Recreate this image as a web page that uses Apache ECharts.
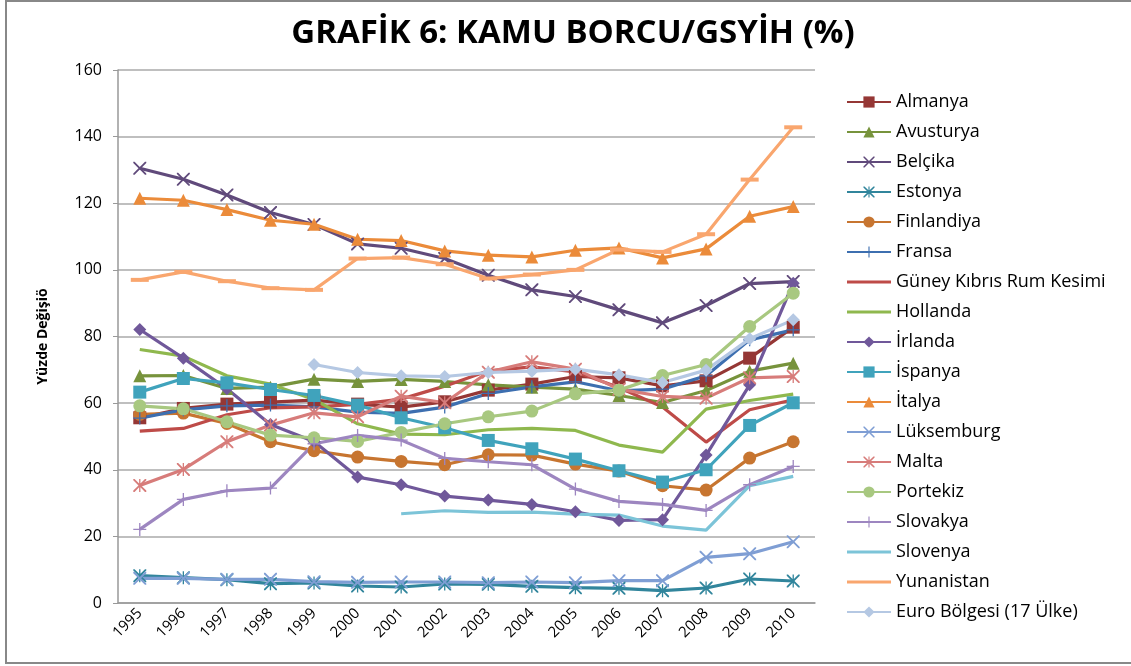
<!DOCTYPE html>
<html>
<head>
<meta charset="utf-8">
<script src="https://cdn.jsdelivr.net/npm/echarts@6/dist/echarts.min.js"></script>
<style>
  html, body { margin: 0; padding: 0; background: #fff; }
  #frame { position: absolute; left: 5px; top: 0px; width: 1140px; height: 664px; border: 2px solid #888; box-sizing: border-box; }
  #chart { position: absolute; left: 0; top: 0; width: 1131px; height: 666px; }
</style>
</head>
<body>
<div id="frame"></div>
<div id="chart"></div>
<script>
// yıllar
var years = ['1995', '1996', '1997', '1998', '1999', '2000', '2001', '2002', '2003', '2004', '2005', '2006', '2007', '2008', '2009', '2010'];
var yTicks = [0, 20, 40, 60, 80, 100, 120, 140, 160];

// ülke verileri (% GSYİH)
var almanya = [55.6, 58.4, 59.7, 60.3, 60.9, 59.7, 58.8, 60.4, 63.9, 65.7, 68.0, 67.6, 65.2, 66.7, 73.5, 82.8];
var avusturya = [68.2, 68.3, 64.4, 64.8, 67.2, 66.5, 67.1, 66.5, 65.5, 64.8, 64.2, 62.3, 60.2, 63.8, 69.6, 72.0];
var belcika = [130.5, 127.2, 122.5, 117.2, 113.6, 107.8, 106.5, 103.4, 98.4, 94.0, 92.0, 88.0, 84.1, 89.3, 95.9, 96.5];
var estonya = [8.2, 7.6, 7.0, 5.8, 6.0, 5.1, 4.8, 5.7, 5.6, 5.0, 4.6, 4.4, 3.7, 4.5, 7.2, 6.6];
var finlandiya = [56.6, 57.0, 53.9, 48.4, 45.7, 43.8, 42.5, 41.5, 44.5, 44.4, 41.7, 39.6, 35.2, 33.9, 43.5, 48.4];
var fransa = [55.5, 58.0, 59.2, 59.4, 58.9, 57.3, 56.9, 58.8, 62.9, 64.9, 66.4, 63.7, 64.2, 68.2, 79.0, 82.0];
var kibris = [51.6, 52.4, 56.5, 58.6, 58.9, 59.6, 61.2, 65.1, 69.7, 70.9, 69.4, 64.7, 58.8, 48.3, 58.0, 61.0];
var hollanda = [76.1, 74.1, 68.2, 65.7, 61.1, 53.8, 50.7, 50.5, 52.0, 52.4, 51.8, 47.4, 45.3, 58.2, 60.8, 62.7];
var irlanda = [82.1, 73.5, 64.3, 53.6, 48.5, 37.8, 35.5, 32.1, 30.9, 29.6, 27.4, 24.8, 25.0, 44.4, 65.5, 96.0];
var ispanya = [63.3, 67.4, 66.1, 64.1, 62.3, 59.4, 55.6, 52.6, 48.8, 46.3, 43.2, 39.7, 36.3, 40.0, 53.3, 60.1];
var italya = [121.5, 120.9, 118.1, 114.9, 113.7, 109.2, 108.8, 105.7, 104.4, 103.9, 105.9, 106.6, 103.6, 106.3, 116.1, 119.0];
var luksemburg = [7.4, 7.4, 7.1, 7.1, 6.4, 6.2, 6.3, 6.3, 6.1, 6.3, 6.1, 6.7, 6.7, 13.7, 14.8, 18.4];
var malta = [35.3, 40.1, 48.4, 53.4, 57.1, 55.9, 62.1, 60.1, 69.3, 72.4, 70.2, 64.2, 62.0, 61.5, 67.6, 68.0];
var portekiz = [59.2, 58.3, 54.4, 50.4, 49.6, 48.5, 51.2, 53.8, 55.9, 57.6, 62.8, 63.9, 68.3, 71.6, 83.0, 93.0];
var slovakya = [22.1, 31.1, 33.7, 34.5, 47.8, 50.3, 48.9, 43.4, 42.4, 41.5, 34.2, 30.5, 29.6, 27.8, 35.5, 41.0];
var slovenya = [null, null, null, null, null, null, 26.8, 27.7, 27.2, 27.3, 26.7, 26.4, 23.1, 21.9, 35.2, 38.0];
var yunanistan = [97.0, 99.4, 96.6, 94.5, 94.0, 103.4, 103.7, 101.7, 97.4, 98.6, 100.0, 106.1, 105.4, 110.7, 127.1, 142.8];
var euro = [null, null, null, null, 71.6, 69.2, 68.2, 68.0, 69.2, 69.6, 70.2, 68.5, 66.2, 69.9, 79.3, 85.0];

// işaret şekilleri
var X_SYM = 'path://M0,0 L2,0 L10,8 L18,0 L20,0 L20,2 L12,10 L20,18 L20,20 L18,20 L10,12 L2,20 L0,20 L0,18 L8,10 L0,2 Z';
var STAR_SYM = 'path://M0,0 L2,0 L9,7 L9,0 L11,0 L11,7 L18,0 L20,0 L20,2 L12,10 L20,18 L20,20 L18,20 L11,13 L11,20 L9,20 L9,13 L2,20 L0,20 L0,18 L8,10 L0,2 Z';
var PLUS_SYM = 'path://M9,0 L11,0 L11,9 L20,9 L20,11 L11,11 L11,20 L9,20 L9,11 L0,11 L0,9 L9,9 Z';
// lejantta yalnızca çizgi
var LINE_ICON = 'path://M0,0 L0.01,0 Z M0,5.5 L44,5.5 L44,8.5 L0,8.5 Z M43.99,14 L44,14 Z';

function seri (name, data, color, symbol, size) {
  return {
    name: name,
    type: 'line',
    data: data,
    color: color,
    symbol: symbol || 'none',
    symbolSize: size || 13,
    showSymbol: !!symbol,
    connectNulls: false,
    lineStyle: { width: 3.2, color: color },
    itemStyle: { color: color },
    emphasis: { disabled: true }
  }
}

var series = [
  seri('Almanya', almanya, '#953735', 'rect', 13),
  seri('Avusturya', avusturya, '#77933C', 'triangle', 13),
  seri('Belçika', belcika, '#604A7B', X_SYM, 13),
  seri('Estonya', estonya, '#31859C', STAR_SYM, 13),
  seri('Finlandiya', finlandiya, '#C77530', 'circle', 13),
  seri('Fransa', fransa, '#3D6FB0', PLUS_SYM, 13),
  seri('Güney Kıbrıs Rum Kesimi', kibris, '#BE4B48'),
  seri('Hollanda', hollanda, '#8FB84E'),
  seri('İrlanda', irlanda, '#70589A', 'diamond', 13),
  seri('İspanya', ispanya, '#40A3BC', 'rect', 13),
  seri('İtalya', italya, '#EB8B3A', 'triangle', 13),
  seri('Lüksemburg', luksemburg, '#7F9ED4', X_SYM, 13),
  seri('Malta', malta, '#D77C7A', STAR_SYM, 13),
  seri('Portekiz', portekiz, '#A8C880', 'circle', 13),
  seri('Slovakya', slovakya, '#9D86C0', PLUS_SYM, 13),
  seri('Slovenya', slovenya, '#7CC4D8'),
  seri('Yunanistan', yunanistan, '#F9A66E', 'rect', [18, 4]),
  seri('Euro Bölgesi (17 Ülke)', euro, '#B5C8E3', 'diamond', 13)
];

var plainLine = ['Güney Kıbrıs Rum Kesimi', 'Hollanda', 'Slovenya', 'Yunanistan'];
var legendData = series.map(function (s) {
  return plainLine.indexOf(s.name) >= 0 ? { name: s.name, icon: LINE_ICON } : { name: s.name }
});

var chart = echarts.init(document.getElementById('chart'));
chart.setOption({
  animation: false,
  title: {
    text: 'GRAFİK 6: KAMU BORCU/GSYİH (%)',
    left: 568,
    textAlign: 'center',
    top: 12,
    textStyle: { fontFamily: 'Open Sans', fontWeight: 'bold', fontSize: 33, color: '#000' }
  },
  legend: {
    orient: 'vertical',
    left: 846,
    top: 93,
    height: 570,
    padding: 0,
    itemWidth: 44,
    itemHeight: 14,
    itemGap: 12,
    data: legendData,
    textStyle: { fontFamily: 'Open Sans', fontSize: 18, lineHeight: 18, color: '#000' }
  },
  grid: { left: 118, right: 316, top: 70, bottom: 63 },
  xAxis: {
    type: 'category',
    data: years,
    boundaryGap: true,
    axisLine: { lineStyle: { color: '#999', width: 1.5 } },
    axisTick: { show: false },
    axisLabel: { rotate: 45, fontFamily: 'Open Sans', fontSize: 15, color: '#000', margin: 8 }
  },
  yAxis: {
    type: 'value',
    min: yTicks[0],
    max: yTicks[yTicks.length - 1],
    interval: 20,
    name: 'Yüzde Değişiö',
    nameLocation: 'middle',
    nameRotate: 90,
    nameGap: 68,
    nameTextStyle: { fontFamily: 'Open Sans', fontWeight: 'bold', fontSize: 14, color: '#000' },
    axisLine: { show: true, lineStyle: { color: '#999', width: 1.5 } },
    axisTick: { show: true, length: 5, lineStyle: { color: '#999' } },
    axisLabel: { fontFamily: 'Open Sans', fontSize: 16, color: '#000', margin: 16 },
    splitLine: { lineStyle: { color: '#aaa', width: 1.5 } }
  },
  series: series
});
</script>
</body>
</html>
